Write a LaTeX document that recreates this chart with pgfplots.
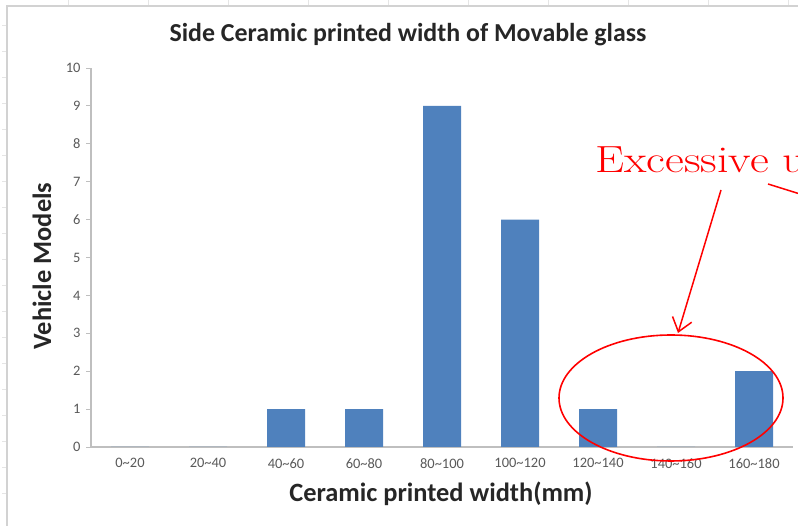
\documentclass[border=0pt]{standalone}
\usepackage{fontspec}
\usepackage{pgfplots}
\pgfplotsset{compat=1.18}
\usetikzlibrary{arrows.meta}
\newfontfamily\calibri{Carlito}
\definecolor{barblue}{HTML}{4F81BD}
\definecolor{axgray}{HTML}{BFBFBF}
\definecolor{lblgray}{HTML}{595959}
\definecolor{xred}{HTML}{FF0000}

\begin{document}
\begin{tikzpicture}[x=1bp,y=1bp]
  \path[use as bounding box, clip] (0,0) rectangle (798,526);

  % sheet frame
  \draw[gray!35, line width=1.4bp] (7,0) -- (7,520) -- (798,520);
  \foreach \yy in {25,51,77,103,129,155,181,207,233,259,285,311,337,363,389,415,441,467,493}
    \draw[gray!20, line width=0.8bp] (2,526-\yy) -- (6,526-\yy);
  \foreach \xx in {68,148,228,308,388,468,548,628,708,788}
    \draw[gray!20, line width=0.8bp] (\xx,526) -- (\xx,521);

  \begin{axis}[
    at={(91bp,79bp)}, anchor=south west,
    scale only axis,
    width=702bp, height=379bp,
    ybar, bar width=38bp,
    xmin=-0.5, xmax=8.5,
    ymin=0, ymax=10,
    xtick=data,
    xticklabels={0\textasciitilde20,20\textasciitilde40,40\textasciitilde60,60\textasciitilde80,80\textasciitilde100,100\textasciitilde120,120\textasciitilde140,140\textasciitilde160,160\textasciitilde180},
    ytick={0,1,...,10},
    axis x line*=bottom, axis y line*=left,
    axis line style={axgray, line width=1.2bp, -},
    x tick style={draw=none},
    y tick style={axgray, line width=0.8bp},
    major tick length=5bp,
    tick align=outside,
    /pgf/number format/assume math mode=true,
    tick label style={font=\calibri\fontsize{14.5}{17}\selectfont, text=lblgray},
    xticklabel style={yshift=-3bp},
    yticklabel style={xshift=-2bp},
    clip=false,
  ]
    \addplot[fill=barblue, draw=none] coordinates {
      (0,0) (1,0) (2,1) (3,1) (4,9) (5,6) (6,1) (7,0) (8,2)
    };
  \end{axis}

  % title and axis titles
  \node[font=\calibri\bfseries\fontsize{26}{30}\selectfont, text=black!85] at (408,491) {Side Ceramic printed width of Movable glass};
  \node[font=\calibri\bfseries\fontsize{26.5}{30}\selectfont, text=black!85, rotate=90] at (42,260) {Vehicle Models};
  \node[font=\calibri\bfseries\fontsize{26.5}{30}\selectfont, text=black!85] at (441,32) {Ceramic printed width(mm)};

  % annotation
  \draw[xred, line width=1.6bp] (671,128) ellipse [x radius=112, y radius=63];
  \node[xred, anchor=base west, inner sep=0pt, xscale=1.22, font=\fontsize{38}{44}\selectfont] at (595,353) {Excessive use};
  \draw[xred, line width=1.5bp, -{Straight Barb[length=13bp, width=20bp, line width=1.5bp]}] (721,336) -- (678,193);
  \draw[xred, line width=1.5bp] (768,342) -- (800,332);
\end{tikzpicture}
\end{document}
